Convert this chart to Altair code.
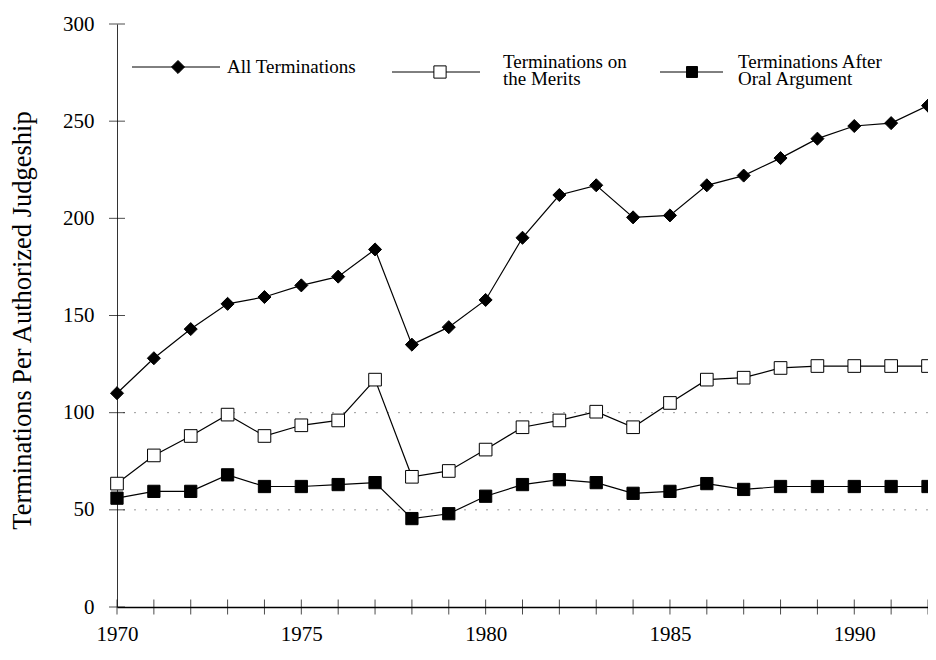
import altair as alt
import pandas as pd

# ---- data ----
years = list(range(1970, 1993))
all_terminations = [110, 128, 143, 156, 159.5, 165.5, 170, 184, 135, 144, 158, 190,
                    212, 217, 200.5, 201.5, 217, 222, 231, 241, 247.5, 249, 258]
merits = [63.5, 78, 88, 99, 88, 93.5, 96, 117, 67, 70, 81, 92.5,
          96, 100.5, 92.5, 105, 117, 118, 123, 124, 124, 124, 124]
oral = [56, 59.5, 59.5, 68, 62, 62, 63, 64, 45.5, 48, 57, 63,
        65.5, 64, 58.5, 59.5, 63.5, 60.5, 62, 62, 62, 62, 62]
series_names = ["All Terminations", "Terminations on the Merits", "Terminations After Oral Argument"]
y_ticks = [0, 50, 100, 150, 200, 250, 300]
x_labels = [1970, 1975, 1980, 1985, 1990]
grid_values = [50, 100]

FONT = "Liberation Serif"

rows = []
for name, vals in zip(series_names, [all_terminations, merits, oral]):
    for yr, v in zip(years, vals):
        rows.append({"year": yr, "value": v, "series": name})
df = pd.DataFrame(rows)

W, H = 811, 583

xscale = alt.Scale(domain=[1970, 1992], nice=False, zero=False)
yscale = alt.Scale(domain=[0, 300], nice=False)

x_axis = alt.Axis(values=x_labels, format="d", title=None, ticks=False, tickSize=0,
                  grid=False, domainColor="black", domainWidth=1.3, labelFlush=False,
                  labelFont=FONT, labelFontSize=21, labelColor="black", labelPadding=16)
y_axis = alt.Axis(values=y_ticks, title="Terminations Per Authorized Judgeship",
                  ticks=False, tickSize=0, grid=False, domainColor="#333", domainWidth=1,
                  labelFlush=False,
                  labelFont=FONT, labelFontSize=21, labelColor="black", labelPadding=23,
                  titleFont=FONT, titleFontSize=26.5, titleFontWeight="normal", titleColor="black",
                  titleAngle=270, titleX=-95, titleY=296, titleAlign="center",
                  titleBaseline="middle")

X = alt.X("year:Q", scale=xscale, axis=x_axis)
Y = alt.Y("value:Q", scale=yscale, axis=y_axis)

grid = alt.Chart(pd.DataFrame({"value": grid_values})).mark_rule(
    color="#999", strokeWidth=1, strokeDash=[2, 9]
).encode(y=Y)

lines = alt.Chart(df).mark_line(color="black", strokeWidth=1.2).encode(
    x=X, y=Y, detail="series:N")

points = alt.Chart(df).mark_point(filled=True, stroke="black", strokeWidth=1, opacity=1).encode(
    x=X, y=Y,
    shape=alt.Shape("series:N", scale=alt.Scale(domain=series_names,
                                                range=["diamond", "square", "square"]), legend=None),
    fill=alt.Fill("series:N", scale=alt.Scale(domain=series_names,
                                              range=["black", "white", "black"]), legend=None),
    size=alt.Size("series:N", scale=alt.Scale(domain=series_names, range=[170, 150, 120]), legend=None),
)

ytick = alt.Chart(pd.DataFrame({"value": y_ticks})).mark_tick(
    orient="horizontal", size=16, thickness=1, color="black").encode(
    x=alt.datum(1970), y=Y)
xtick = alt.Chart(pd.DataFrame({"year": years})).mark_tick(
    orient="vertical", size=15, thickness=1, color="black").encode(
    x=X, y=alt.datum(0))

# ---- manual legend (layout positions in pixels) ----
one = pd.DataFrame({"a": [0]})

def legend_entry(x1, x2, xm, yl, shape, fill, size, xt, yt, text):
    rule = alt.Chart(one).mark_rule(color="black", strokeWidth=1).encode(
        x=alt.value(x1), x2=alt.value(x2), y=alt.value(yl))
    mark = alt.Chart(one).mark_point(shape=shape, filled=True, fill=fill, stroke="black",
                                     strokeWidth=1, size=size, opacity=1).encode(
        x=alt.value(xm), y=alt.value(yl))
    label = alt.Chart(one).mark_text(text=text, align="left", baseline="middle", font=FONT,
                                     fontSize=19, lineHeight=16.5, color="black").encode(
        x=alt.value(xt), y=alt.value(yt))
    return [rule, mark, label]

leg = []
leg += legend_entry(15, 103, 61, 43, "diamond", "black", 170, 110, 43, "All Terminations")
leg += legend_entry(275, 363, 323, 48, "square", "white", 150, 386, 38,
                    ["Terminations on", "the Merits"])
leg += legend_entry(543, 606, 575, 48, "square", "black", 120, 621, 38,
                    ["Terminations After", "Oral Argument"])

chart = alt.layer(grid, xtick, ytick, lines, points, *leg).properties(
    width=W, height=H,
    autosize=alt.AutoSizeParams(type="none"),
    padding={"left": 109, "top": 16, "right": 0, "bottom": 40},
    background="white",
).configure_view(stroke=None)

chart.save("out.html", embed_options={"renderer": "svg", "actions": False})
